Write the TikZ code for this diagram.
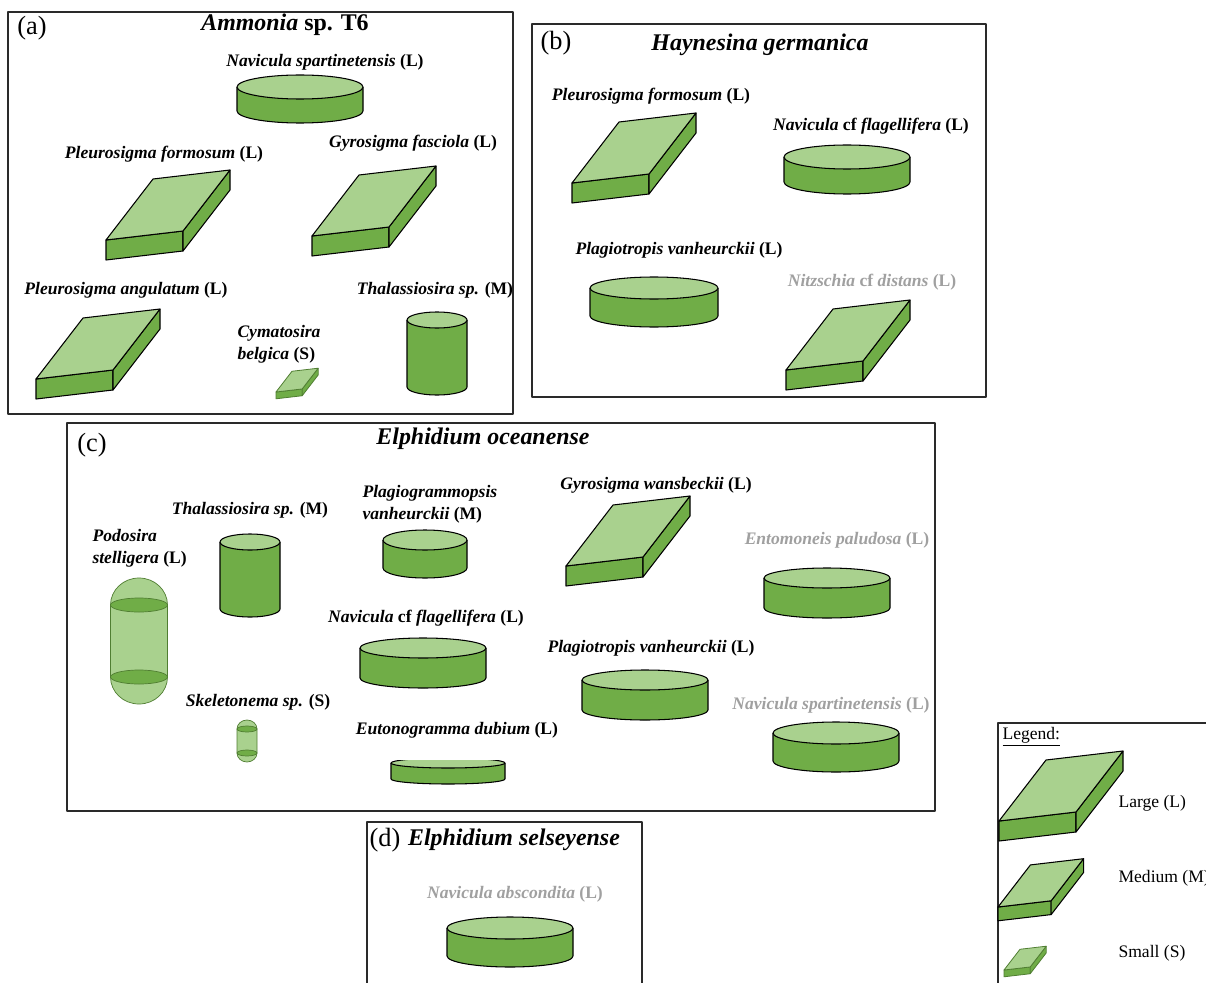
\documentclass[tikz,border=0pt]{standalone}
\usepackage{fontspec}
\setmainfont{Liberation Serif}
\usepackage{tikz}

\definecolor{topgreen}{HTML}{A9D18E}
\definecolor{sidegreen}{HTML}{70AD47}
\definecolor{edgegreen}{HTML}{507E32}
\definecolor{fadegray}{HTML}{A0A0A0}
\definecolor{boxgray}{HTML}{2A2A2A}

\begin{document}
\begin{tikzpicture}[
    x=0.02cm, y=-0.02cm, line width=0.6pt, line join=round,
    panel/.style={draw=boxgray, line width=0.8pt},
    species/.style={font=\fontsize{10}{12.5}\selectfont\bfseries\itshape, inner sep=0pt},
    faded/.style={species, text=fadegray},
    title/.style={font=\fontsize{13.6}{15}\selectfont\bfseries\itshape, inner sep=0pt},
    tag/.style={font=\fontsize{15}{17}\selectfont, inner sep=0pt},
    legtext/.style={font=\fontsize{10}{12}\selectfont, inner sep=0pt, anchor=west},
    fine/.style={color=edgegreen, line width=0.45pt},
    pics/prism/.style={code={
        \draw[fill=sidegreen] (0,0) -- (77,-9) -- (77,11) -- (0,20) -- cycle;
        \draw[fill=sidegreen] (77,-9) -- (124,-70) -- (124,-50) -- (77,11) -- cycle;
        \draw[fill=topgreen] (0,0) -- (77,-9) -- (124,-70) -- (47,-61) -- cycle;
    }},
    pics/cyl/.style n args={3}{code={
        \draw[fill=sidegreen] (-#1,0) -- (-#1,#3)
            arc[start angle=180, end angle=0, x radius=#1, y radius=#2] -- (#1,0);
        \draw[fill=topgreen] (0,0) ellipse[x radius=#1, y radius=#2];
    }},
    pics/capsule/.style n args={4}{code={
        \draw[fill=topgreen, draw=edgegreen, line width=0.4pt] (-#1,0)
            arc[start angle=180, end angle=360, x radius=#1, y radius=#2] -- (#1,#3)
            arc[start angle=0, end angle=180, x radius=#1, y radius=#2] -- cycle;
        \draw[fill=sidegreen, draw=edgegreen, line width=0.4pt] (0,0) ellipse[x radius=#1, y radius=#4];
        \draw[fill=sidegreen, draw=edgegreen, line width=0.4pt] (0,#3) ellipse[x radius=#1, y radius=#4];
    }}
]
    \path[use as bounding box, fill=white] (0,0) rectangle (1206,983);
    \clip (0,0) rectangle (1206,983);

    % (a) Ammonia
    \draw[panel] (8,12) rectangle (513,414);
    \node[tag] (tagA) at (32,28) {(a)};
    \node[title] (ttlA) at (285,25) {Ammonia {\upshape sp. T6}};
    \node[species] (lnspA) at (325,62) {Navicula spartinetensis {\upshape(L)}};
    \pic (nspA) at (300,87) {cyl={63}{12}{24}};
    \node[species] (lpfoA) at (164,154) {Pleurosigma formosum {\upshape(L)}};
    \pic (pfoA) at (106,240) {prism};
    \node[species] (lgfaA) at (413,143) {Gyrosigma fasciola {\upshape(L)}};
    \pic (gfaA) at (312,236) {prism};
    \node[species] (lpanA) at (126,290) {Pleurosigma angulatum {\upshape(L)}};
    \pic (panA) at (36,379) {prism};
    \node[species, align=left, anchor=west] (lcbeA) at (237,344) {Cymatosira\\belgica {\upshape(S)}};
    \pic[fine, scale=0.34] (cbeA) at (276,392) {prism};
    \node[species] (lthaA) at (435,290) {Thalassiosira sp. {\upshape(M)}};
    \pic (thaA) at (437,320) {cyl={30}{8}{67}};

    % (b) Haynesina
    \draw[panel] (532,24) rectangle (986,397);
    \node[tag] (tagB) at (556,43) {(b)};
    \node[title] (ttlB) at (760,45) {Haynesina germanica};
    \node[species] (lpfoB) at (651,96) {Pleurosigma formosum {\upshape(L)}};
    \pic (pfoB) at (572,183) {prism};
    \node[species] (lnflB) at (871,126) {Navicula {\upshape cf} flagellifera {\upshape(L)}};
    \pic (nflB) at (847,157) {cyl={63}{12}{25}};
    \node[species] (lpvaB) at (679,250) {Plagiotropis vanheurckii {\upshape(L)}};
    \pic (pvaB) at (654,288) {cyl={64}{11}{28}};
    \node[faded] (lndiB) at (872,282) {Nitzschia {\upshape cf} distans {\upshape(L)}};
    \pic (ndiB) at (786,370) {prism};

    % (c) Elphidium oceanense
    \draw[panel] (67,423) rectangle (935,811);
    \node[tag] (tagC) at (92,445) {(c)};
    \node[title] (ttlC) at (483,439) {Elphidium oceanense};
    \node[species, align=left, anchor=west] (lpstC) at (92,548) {Podosira\\stelligera {\upshape(L)}};
    \pic (pstC) at (139,605) {capsule={28.5}{27}{72}{7}};
    \node[species] (lthaC) at (250,510) {Thalassiosira sp. {\upshape(M)}};
    \pic (thaC) at (250,542) {cyl={30}{8}{67}};
    \node[species, align=left, anchor=west] (lpgvC) at (362,504) {Plagiogrammopsis\\vanheurckii {\upshape(M)}};
    \pic (pgvC) at (425,540) {cyl={42}{10}{28}};
    \node[species] (lnflC) at (426,618) {Navicula {\upshape cf} flagellifera {\upshape(L)}};
    \pic (nflC) at (423,648) {cyl={63}{10}{30}};
    \node[species] (lskeC) at (258,702) {Skeletonema sp. {\upshape(S)}};
    \pic (skeC) at (247,729) {capsule={10}{9}{24}{3}};
    \node[species] (leduC) at (457,730) {Eutonogramma dubium {\upshape(L)}};
    \begin{scope}
        \clip (385,760) rectangle (515,795);
        \pic (eduC) at (448,763) {cyl={57}{5}{16}};
    \end{scope}
    \node[species] (lgwaC) at (656,485) {Gyrosigma wansbeckii {\upshape(L)}};
    \pic (gwaC) at (566,566) {prism};
    \node[faded] (lepaC) at (837,540) {Entomoneis paludosa {\upshape(L)}};
    \pic (epaC) at (827,578) {cyl={63}{10}{30}};
    \node[species] (lpvaC) at (651,648) {Plagiotropis vanheurckii {\upshape(L)}};
    \pic (pvaC) at (645,680) {cyl={63}{10}{30}};
    \node[faded] (lnspC) at (831,705) {Navicula spartinetensis {\upshape(L)}};
    \pic (nspC) at (836,733) {cyl={63}{11}{28}};

    % (d) Elphidium selseyense
    \draw[panel] (367,1000) -- (367,822) -- (642,822) -- (642,1000);
    \node[tag] (tagD) at (385,840) {(d)};
    \node[title] (ttlD) at (514,840) {Elphidium selseyense};
    \node[faded] (lnabD) at (515,894) {Navicula abscondita {\upshape(L)}};
    \pic (nabD) at (510,928) {cyl={63}{11}{28}};

    % size legend
    \draw[panel] (998,1000) -- (998,723) -- (1230,723);
    \node[legtext] (leg) at (1002,737) {\underline{Legend:}};
    \pic (legL) at (999,821) {prism};
    \node[legtext] (legLt) at (1118,803) {Large (L)};
    \pic[scale=0.69] (legM) at (998,907) {prism};
    \node[legtext] (legMt) at (1118,878) {Medium (M)};
    \pic[fine, scale=0.34] (legS) at (1004,970) {prism};
    \node[legtext] (legSt) at (1118,953) {Small (S)};
\end{tikzpicture}
\end{document}
